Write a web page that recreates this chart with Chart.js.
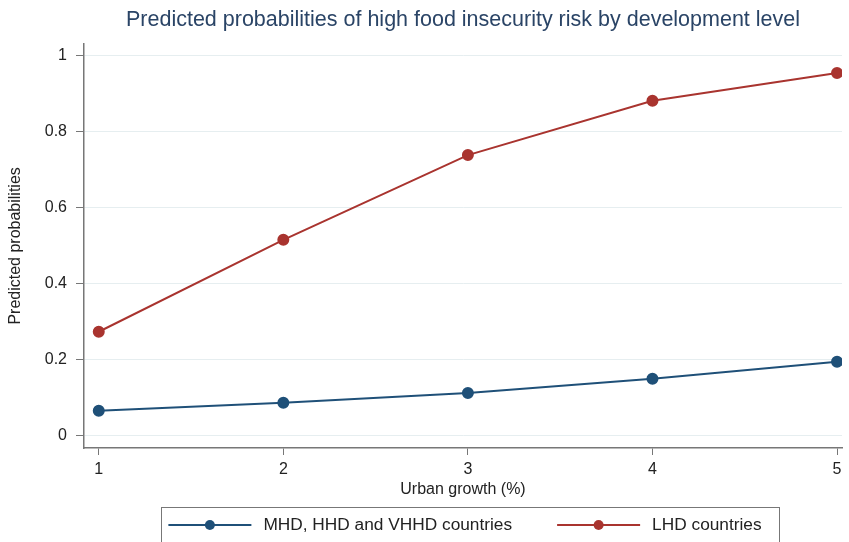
<!DOCTYPE html>
<html>
<head>
<meta charset="utf-8">
<script src="https://cdn.jsdelivr.net/npm/chart.js@4.4.0/dist/chart.umd.min.js"></script>
<style>
  html, body { margin: 0; padding: 0; background: #fff; }
  #wrap { width: 849px; height: 542px; }
</style>
</head>
<body>
<div id="wrap"><canvas id="probChart"></canvas></div>
<script>
// data
const urbanGrowth = [1, 2, 3, 4, 5];
const mhdSeries = [0.066, 0.087, 0.113, 0.150, 0.195];
const lhdSeries = [0.274, 0.516, 0.739, 0.882, 0.955];
const yTicks = [0, 0.2, 0.4, 0.6, 0.8, 1];
const seriesLabels = ['MHD, HHD and VHHD countries', 'LHD countries'];

const blue = '#1f5078';
const red = '#a9342f';
const fontFamily = '"Liberation Sans", Arial, sans-serif';

// Stata-style legend: framed, line sample with a dot in the middle
const stataLegend = {
    id: 'stataLegend',
    afterDraw(chart) {
        const ctx = chart.ctx;
        const sample = 83, gap = 12, itemGap = 45;
        const centre = 465, midY = 525, boxTop = 507.5;
        ctx.save();
        ctx.font = '17.3px ' + fontFamily;
        const widths = chart.data.datasets.map(ds => ctx.measureText(ds.label).width);
        let total = 0;
        widths.forEach((w, i) => { total += sample + gap + w + (i ? itemGap : 0); });
        let x = centre - total / 2;
        const startX = x;

        chart.data.datasets.forEach((ds, i) => {
            ctx.strokeStyle = ds.borderColor;
            ctx.lineWidth = 2;
            ctx.beginPath();
            ctx.moveTo(x, midY);
            ctx.lineTo(x + sample, midY);
            ctx.stroke();
            ctx.fillStyle = ds.borderColor;
            ctx.beginPath();
            ctx.arc(x + sample / 2, midY, 5, 0, Math.PI * 2);
            ctx.fill();
            ctx.fillStyle = '#222';
            ctx.textBaseline = 'middle';
            ctx.fillText(ds.label, x + sample + gap, midY);
            x += sample + gap + widths[i] + itemGap;
        });
        const endX = x - itemGap;

        ctx.strokeStyle = '#777';
        ctx.lineWidth = 1;
        ctx.strokeRect(Math.round(startX - 7) + 0.5, boxTop, Math.round(endX - startX + 25), 60);
        ctx.restore();
    }
};

const ctx = document.getElementById('probChart');

new Chart(ctx, {
    type: 'line',
    data: {
        datasets: [{
            label: seriesLabels[0],
            data: urbanGrowth.map((x, i) => ({ x: x, y: mhdSeries[i] })),
            borderColor: blue,
            backgroundColor: blue,
            borderWidth: 2,
            pointRadius: 5,
            pointHoverRadius: 5,
            tension: 0
        }, {
            label: seriesLabels[1],
            data: urbanGrowth.map((x, i) => ({ x: x, y: lhdSeries[i] })),
            borderColor: red,
            backgroundColor: red,
            borderWidth: 2,
            pointRadius: 5,
            pointHoverRadius: 5,
            tension: 0
        }]
    },
    options: {
        responsive: true,
        maintainAspectRatio: false,
        animation: false,
        layout: { padding: { left: 0, right: 0, top: 0, bottom: 35 } },
        plugins: {
            title: {
                display: true,
                text: 'Predicted probabilities of high food insecurity risk by development level',
                color: '#2a4466',
                fullSize: false,
                font: { family: fontFamily, size: 21.5, weight: 'normal' },
                padding: { top: 7, bottom: 11 }
            },
            legend: { display: false },
            tooltip: { enabled: false }
        },
        scales: {
            x: {
                type: 'linear',
                min: 0.92,
                max: 5.027,
                afterBuildTicks: (s) => { s.ticks = urbanGrowth.map(v => ({ value: v })); },
                afterFit: (s) => { s.height = 59; },
                border: { color: '#777', width: 1.5 },
                grid: { drawOnChartArea: false, tickLength: 7, tickColor: '#777' },
                ticks: {
                    color: '#222',
                    padding: 5,
                    maxRotation: 0,
                    font: { family: fontFamily, size: 16 }
                },
                title: {
                    display: true,
                    text: 'Urban growth (%)',
                    color: '#222',
                    padding: { top: 0, bottom: 8 },
                    font: { family: fontFamily, size: 16 }
                }
            },
            y: {
                min: -0.032,
                max: 1.032,
                afterBuildTicks: (s) => { s.ticks = yTicks.map(v => ({ value: v })); },
                afterFit: (s) => { s.width = 84; },
                border: { color: '#777', width: 1.5 },
                grid: { color: '#e6eef0', tickLength: 8, tickColor: '#777' },
                ticks: {
                    color: '#222',
                    padding: 9,
                    font: { family: fontFamily, size: 16 },
                    callback: (v) => String(v)
                },
                title: {
                    display: true,
                    text: 'Predicted probabilities',
                    color: '#222',
                    padding: { top: 6, bottom: 0 },
                    font: { family: fontFamily, size: 16 }
                }
            }
        }
    },
    plugins: [stataLegend]
});
</script>
</body>
</html>
